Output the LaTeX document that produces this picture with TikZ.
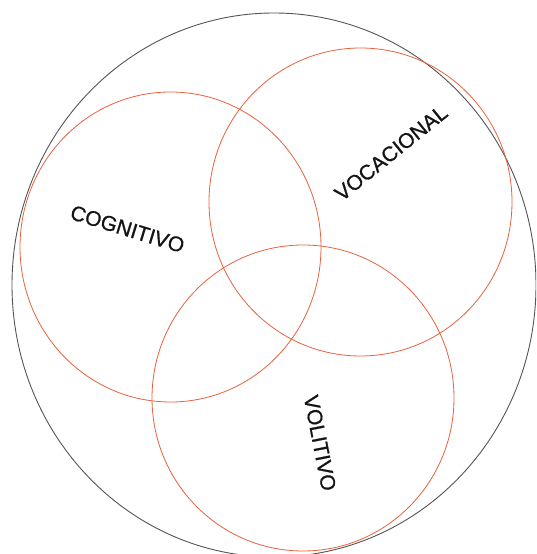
\documentclass[tikz,border=0pt]{standalone}
\usepackage{fontspec}
\setmainfont{Liberation Sans}
\newfontfamily\lblfont[FakeBold=0.9]{Liberation Sans}
\definecolor{ringorange}{RGB}{232,98,62}
\definecolor{ringgray}{RGB}{85,85,85}
\tikzset{
  outerring/.style={draw=ringgray, line width=0.9pt},
  venn/.style={draw=ringorange, line width=0.8pt},
  lbl/.style={font=\lblfont\fontsize{21}{21}\selectfont, text=black!92, inner sep=0pt}
}
\begin{document}
\begin{tikzpicture}[x=1pt,y=1pt]
\useasboundingbox (0,0) rectangle (536,554);
\clip (0,0) rectangle (536,554);
\fill[white] (0,0) rectangle (536,554);
\draw[outerring] (274,269) ellipse [x radius=262, y radius=272];
\draw[venn] (170.5,307) ellipse [x radius=150.5, y radius=155];
\draw[venn] (360.5,352) ellipse [x radius=151.5, y radius=154];
\draw[venn] (303,156) ellipse [x radius=151, y radius=153];
\node[lbl, rotate=-17] (cog) at (127.5,325) {COGNITIVO};
\node[lbl, rotate=39] (voc) at (391,401) {VOCACIONAL};
\node[lbl, rotate=-79] (vol) at (320,111) {VOLITIVO};
\end{tikzpicture}
\end{document}
